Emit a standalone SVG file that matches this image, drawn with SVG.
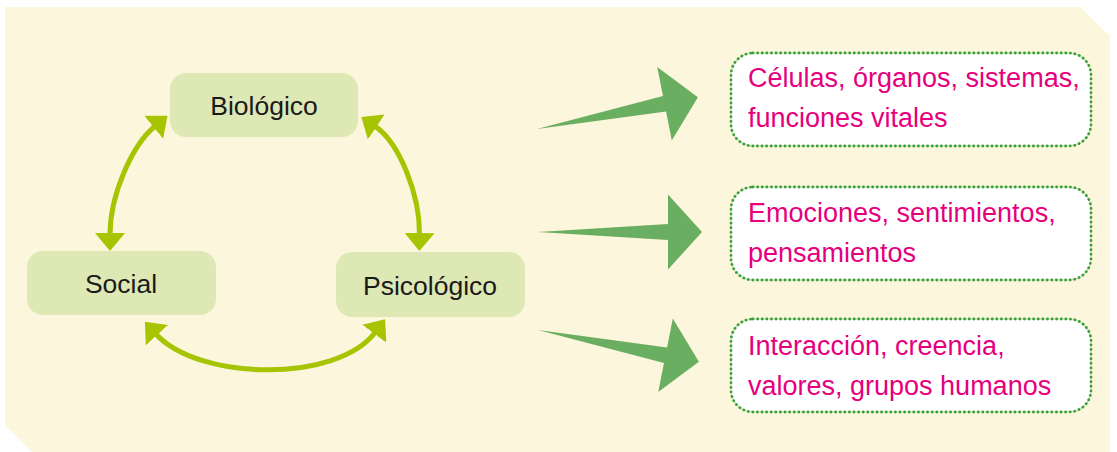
<svg xmlns="http://www.w3.org/2000/svg" xmlns:xlink="http://www.w3.org/1999/xlink" width="1117" height="452" viewBox="0 0 1117 452">
<style>
.node rect{fill:#dde8b5}
.node text{font-family:"Liberation Sans",Arial,sans-serif;font-size:26.5px;fill:#1a1a1a;text-anchor:middle}
.box .halo{fill:#ffffff;stroke:#cfe7b8;stroke-width:1.5}
.box .dots{fill:none;stroke:#3a9f3a;stroke-width:2.8;stroke-dasharray:0.1 4.5;stroke-linecap:round}
.box text{font-family:"Liberation Sans",Arial,sans-serif;font-size:27px;fill:#e5007e}
.arc{fill:none;stroke:#a6c400;stroke-width:5;marker-start:url(#tri);marker-end:url(#tri)}
.big{fill:#6aae61}
</style>
<defs>
<marker id="tri" markerUnits="userSpaceOnUse" viewBox="0 0 18 30" markerWidth="18" markerHeight="30" refX="2" refY="15" orient="auto-start-reverse">
<path d="M0,0 L18,15 L0,30 z" fill="#a6c400"/>
</marker>
<polygon id="bigarrow" points="0,0 130,-8 130,-37.5 164,0 130,37.5 130,8"/>
</defs>
<polygon points="5,7 1080,7 1110,36 1110,452 32,452 5,425" fill="#fcf6dc"/>
<g id="connectors">
<path class="arc" d="M110,235 C110,195 132,145 155.2,126"/>
<path class="arc" d="M419.5,235 C420,195 399.5,142.7 374.6,125.9"/>
<path class="arc" d="M155.6,333.7 C198.5,381 337.1,383.3 375.5,332.1"/>
<use xlink:href="#bigarrow" class="big" transform="translate(537,129) rotate(-11.2)"/>
<use xlink:href="#bigarrow" class="big" transform="translate(538,232)"/>
<use xlink:href="#bigarrow" class="big" transform="translate(538,330) rotate(11.2)"/>
</g>
<g id="biologico" class="node">
<rect x="170" y="73" width="188" height="64" rx="16"/>
<text x="264" y="115">Biológico</text>
</g>
<g id="social" class="node">
<rect x="27" y="251" width="189" height="64" rx="16"/>
<text x="121" y="293">Social</text>
</g>
<g id="psicologico" class="node">
<rect x="336" y="252" width="189" height="65" rx="16"/>
<text x="430" y="295">Psicológico</text>
</g>
<g id="box-bio" class="box">
<rect class="halo" x="731" y="53" width="360" height="93" rx="22"/>
<rect class="dots" x="731" y="53" width="360" height="93" rx="22"/>
<text x="748" y="87">Células, órganos, sistemas,</text>
<text x="748" y="127">funciones vitales</text>
</g>
<g id="box-psi" class="box">
<rect class="halo" x="731" y="187" width="360" height="93" rx="22"/>
<rect class="dots" x="731" y="187" width="360" height="93" rx="22"/>
<text x="748" y="222">Emociones, sentimientos,</text>
<text x="748" y="262">pensamientos</text>
</g>
<g id="box-soc" class="box">
<rect class="halo" x="731" y="319" width="360" height="93" rx="22"/>
<rect class="dots" x="731" y="319" width="360" height="93" rx="22"/>
<text x="748" y="355">Interacción, creencia,</text>
<text x="748" y="395">valores, grupos humanos</text>
</g>
</svg>
